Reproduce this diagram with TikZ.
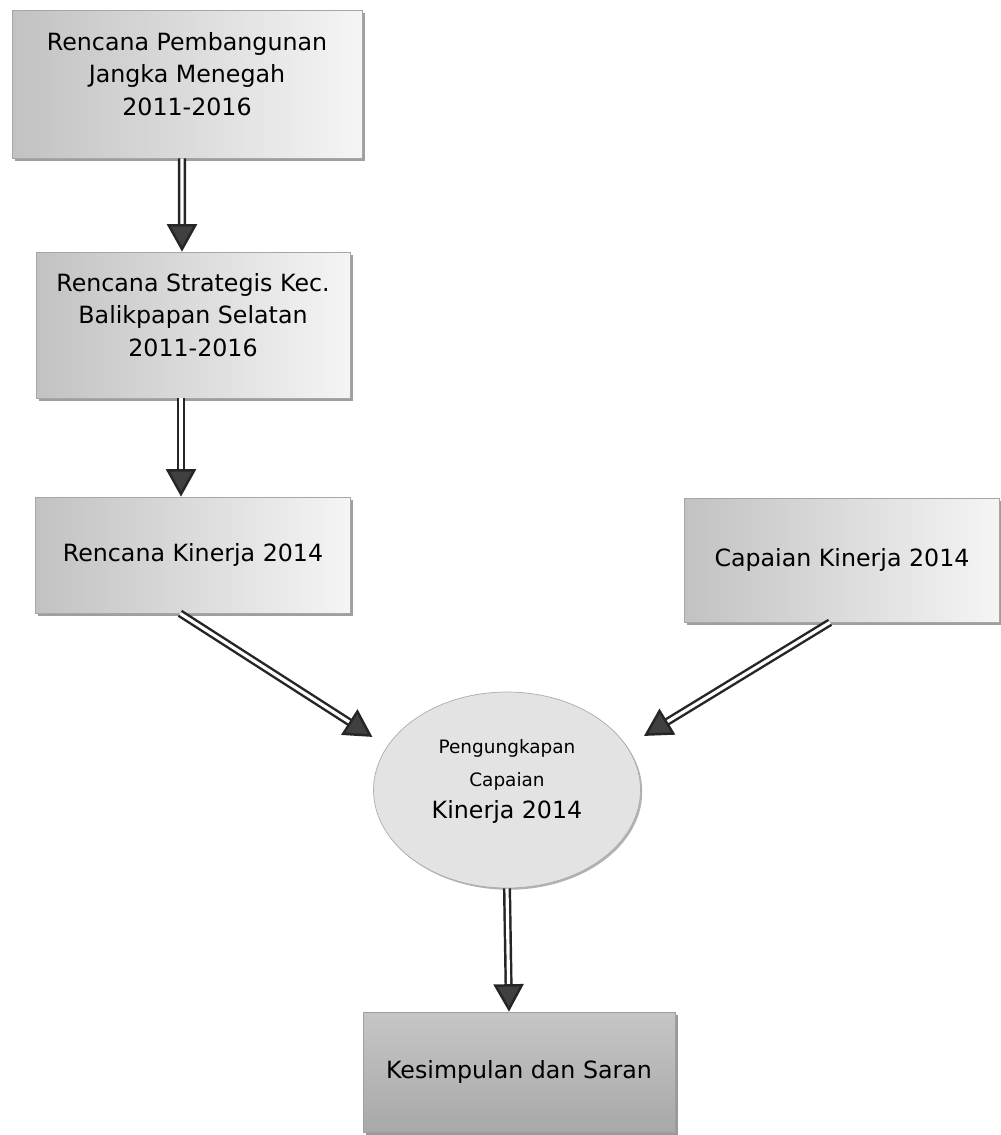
\documentclass[tikz,border=0pt]{standalone}
\usepackage{fontspec}
\setmainfont{DejaVu Sans}
\usetikzlibrary{arrows.meta, shapes.geometric, shadows}
\definecolor{TipGray}{RGB}{64, 64, 64}

\begin{document}
\begin{tikzpicture}[x=0.02cm, y=-0.02cm,
        every node/.style={font=\fontsize{13.5}{18.5}\selectfont, align=center},
        planbox/.style={rectangle, draw=gray!70, thin, left color=gray!48, right color=gray!8,
            drop shadow={shadow xshift=1.6pt, shadow yshift=-1.6pt, fill=gray!75, opacity=1}},
        endbox/.style={rectangle, draw=gray!75, thin, top color=gray!45, bottom color=gray!68,
            drop shadow={shadow xshift=1.6pt, shadow yshift=-1.6pt, fill=gray!80, opacity=1}},
        dblarrow/.style={draw=black!85, line width=1.4pt, double=white, double distance=1.8pt,
            -{Triangle[width=0.6cm, length=0.55cm, fill=TipGray]}}]

        \useasboundingbox (0,0) rectangle (1000,1135);

        % --- LEFT COLUMN: planning documents ---
        \node[planbox, minimum width=7cm, minimum height=2.96cm] (rpjm) at (187,84)
            {Rencana Pembangunan\\Jangka Menegah\\2011-2016\\[-7pt]~};
        \node[planbox, minimum width=6.28cm, minimum height=2.92cm] (renstra) at (193,325)
            {Rencana Strategis Kec.\\Balikpapan Selatan\\2011-2016\\[-7pt]~};
        \node[planbox, minimum width=6.3cm, minimum height=2.32cm] (renja) at (193,555)
            {Rencana Kinerja 2014};

        % --- RIGHT: achievement ---
        \node[planbox, minimum width=6.3cm, minimum height=2.48cm] (capaian) at (842,560)
            {Capaian Kinerja 2014};

        % --- MIDDLE: disclosure and conclusion ---
        \node[ellipse, draw=gray!65, fill=gray!22, minimum width=5.34cm, minimum height=3.92cm,
            drop shadow={shadow xshift=1pt, shadow yshift=-1pt, fill=gray!60, opacity=1}] (ungkap) at (507,790)
            {\fontsize{10.5}{15.5}\selectfont Pengungkapan\\
             \fontsize{10.5}{15.5}\selectfont Capaian\\
             Kinerja 2014\\[-6pt]~};
        \node[endbox, minimum width=6.24cm, minimum height=2.4cm] (simpul) at (519,1072)
            {Kesimpulan dan Saran};

        % Arrows
        \draw[dblarrow] ([xshift=-0.1cm]rpjm.south) -- ([xshift=-0.22cm]renstra.north);
        \draw[dblarrow] ([xshift=-0.24cm]renstra.south) -- ([xshift=-0.24cm]renja.north);
        \draw[dblarrow, shorten >=0.35cm] ([xshift=-0.26cm]renja.south) -- (ungkap.160);
        \draw[dblarrow, shorten >=0.4cm] ([xshift=-0.24cm]capaian.south) -- (ungkap.20);
        \draw[dblarrow] (ungkap.south) -- ([xshift=-0.2cm]simpul.north);

    \end{tikzpicture}
\end{document}
